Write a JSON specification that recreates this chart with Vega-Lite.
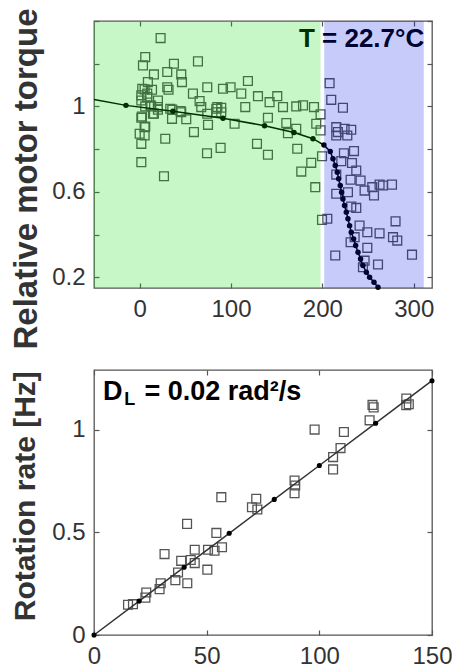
{
  "$schema": "https://vega.github.io/schema/vega-lite/v6.json",
  "background": "white",
  "padding": {"left": 9, "top": 7, "right": 0, "bottom": 0},
  "bounds": "flush",
  "spacing": 82,
  "config": {
    "view": {"stroke": "#555", "strokeWidth": 1.3},
    "font": "Liberation Sans",
    "axis": {
      "grid": false, "domain": false, "tickSize": -5, "tickColor": "#555", "tickWidth": 1.2,
      "labelFont": "Liberation Sans", "labelFontSize": 24, "labelColor": "#333",
      "labelFlush": false, "labelOverlap": false,
      "titleFont": "Liberation Sans", "titleFontWeight": "bold", "titleColor": "#333"
    }
  },
  "datasets": {
    "torque": [
      {"x": 22.9, "y": 1.32}, {"x": 6.1, "y": 1.231}, {"x": 3.6, "y": 1.192}, {"x": 37.5, "y": 1.2},
      {"x": 63.8, "y": 1.211}, {"x": 30.2, "y": 1.161}, {"x": 15.6, "y": 1.15}, {"x": 45.5, "y": 1.15},
      {"x": 46.3, "y": 1.114}, {"x": 9, "y": 1.114}, {"x": 118.5, "y": 1.119}, {"x": 74, "y": 1.09},
      {"x": 91.2, "y": 1.083}, {"x": 99.5, "y": 1.09}, {"x": 111.2, "y": 1.06}, {"x": 129.5, "y": 1.048},
      {"x": 150.6, "y": 1.048}, {"x": 142.2, "y": 1.02}, {"x": 58.3, "y": 1.06}, {"x": 65.6, "y": 1.025},
      {"x": 67.4, "y": 0.997}, {"x": 115.6, "y": 0.997}, {"x": 156.9, "y": 0.997}, {"x": 171.4, "y": 1.0},
      {"x": 178.8, "y": 1.005}, {"x": 190.8, "y": 0.997}, {"x": 198, "y": 0.963}, {"x": 89.3, "y": 0.994},
      {"x": 83.9, "y": 0.973}, {"x": 140.4, "y": 0.947}, {"x": 160.5, "y": 0.922}, {"x": 171.4, "y": 0.895},
      {"x": 162.3, "y": 0.875}, {"x": 193.3, "y": 0.919}, {"x": 198, "y": 0.888}, {"x": 103.9, "y": 0.919},
      {"x": 74.8, "y": 0.914}, {"x": 51, "y": 0.94}, {"x": 35.4, "y": 0.942}, {"x": 45.5, "y": 0.973},
      {"x": 59.4, "y": 0.88}, {"x": 28, "y": 0.849}, {"x": 1.8, "y": 0.947}, {"x": 5.4, "y": 0.903},
      {"x": 0, "y": 0.872}, {"x": 5.4, "y": 0.864}, {"x": 1.8, "y": 0.825}, {"x": 1.8, "y": 0.739},
      {"x": 26.6, "y": 0.673}, {"x": 73.7, "y": 0.781}, {"x": 88.6, "y": 0.806}, {"x": 128.4, "y": 0.825},
      {"x": 140.4, "y": 0.774}, {"x": 172.5, "y": 0.802}, {"x": 187.8, "y": 0.736}, {"x": 176.9, "y": 0.695},
      {"x": 199.6, "y": 0.767}, {"x": 192.2, "y": 0.622}, {"x": 199.6, "y": 0.469},
      {"x": 2.8, "y": 1.083}, {"x": 13.5, "y": 1.078}, {"x": 30.2, "y": 1.09}, {"x": 31.6, "y": 1.078},
      {"x": 1.8, "y": 1.052}, {"x": 8.3, "y": 1.044}, {"x": 20, "y": 1.028}, {"x": 1.8, "y": 1.028},
      {"x": 12.7, "y": 1.0}, {"x": 20, "y": 0.997}, {"x": 6.1, "y": 1.0}, {"x": 11.9, "y": 1.005},
      {"x": 2.5, "y": 0.953}, {"x": 15.6, "y": 0.966}, {"x": 20, "y": 0.985}, {"x": 35.7, "y": 0.985},
      {"x": 33.5, "y": 0.989}, {"x": 44.8, "y": 0.978}, {"x": 74, "y": 0.966}, {"x": 83.9, "y": 0.989},
      {"x": 85, "y": 0.997}, {"x": 89.3, "y": 0.973}, {"x": 6.1, "y": 0.906}, {"x": 14.5, "y": 0.966},
      {"x": 8.3, "y": 1.06}, {"x": 5.4, "y": 1.08},
      {"x": 207.9, "y": 1.109}, {"x": 209.7, "y": 1.031}, {"x": 222.5, "y": 0.994}, {"x": 215.2, "y": 0.903},
      {"x": 224.3, "y": 0.895}, {"x": 231.6, "y": 0.891}, {"x": 215.2, "y": 0.864}, {"x": 227.3, "y": 0.864},
      {"x": 217, "y": 0.88}, {"x": 223.6, "y": 0.781}, {"x": 234.6, "y": 0.791}, {"x": 220.7, "y": 0.744},
      {"x": 232.4, "y": 0.735}, {"x": 237.1, "y": 0.7}, {"x": 215.2, "y": 0.681}, {"x": 230.9, "y": 0.657},
      {"x": 241.8, "y": 0.653}, {"x": 246.2, "y": 0.606}, {"x": 254.6, "y": 0.622}, {"x": 262.6, "y": 0.634},
      {"x": 266.3, "y": 0.63}, {"x": 276.2, "y": 0.634}, {"x": 256.5, "y": 0.583}, {"x": 215.2, "y": 0.591},
      {"x": 228, "y": 0.598}, {"x": 231.6, "y": 0.531}, {"x": 237.1, "y": 0.525}, {"x": 205.4, "y": 0.474},
      {"x": 240.7, "y": 0.442}, {"x": 249.2, "y": 0.411}, {"x": 262.6, "y": 0.406}, {"x": 280.1, "y": 0.462},
      {"x": 277.3, "y": 0.388}, {"x": 282, "y": 0.372}, {"x": 230.9, "y": 0.364}, {"x": 235.3, "y": 0.388},
      {"x": 249.2, "y": 0.338}, {"x": 214.1, "y": 0.302}, {"x": 246.2, "y": 0.278}, {"x": 260.9, "y": 0.26},
      {"x": 298.1, "y": 0.306}, {"x": 244.4, "y": 0.247}
    ],
    "torqueFit": [
      {"x": -50, "y": 1.033}, {"x": -15, "y": 1.005}, {"x": 36.4, "y": 0.977}, {"x": 91.2, "y": 0.945},
      {"x": 136.7, "y": 0.91}, {"x": 168.9, "y": 0.878}, {"x": 189.7, "y": 0.849}, {"x": 201.7, "y": 0.819},
      {"x": 208.6, "y": 0.789}, {"x": 211.6, "y": 0.755}, {"x": 214.1, "y": 0.724}, {"x": 216.3, "y": 0.692},
      {"x": 217.8, "y": 0.661}, {"x": 219.6, "y": 0.63}, {"x": 221.0, "y": 0.598}, {"x": 222.5, "y": 0.567},
      {"x": 224.3, "y": 0.536}, {"x": 226.2, "y": 0.505}, {"x": 228, "y": 0.474}, {"x": 229.8, "y": 0.442},
      {"x": 231.6, "y": 0.411}, {"x": 234.2, "y": 0.38}, {"x": 236.4, "y": 0.349}, {"x": 239, "y": 0.317},
      {"x": 241.8, "y": 0.286}, {"x": 244.4, "y": 0.255}, {"x": 248.1, "y": 0.224}, {"x": 251.7, "y": 0.2},
      {"x": 256.5, "y": 0.177}, {"x": 260.9, "y": 0.153}
    ],
    "torqueDots": [
      {"x": -15, "y": 1.005}, {"x": 36.4, "y": 0.977}, {"x": 91.2, "y": 0.945},
      {"x": 136.7, "y": 0.91}, {"x": 168.9, "y": 0.878}, {"x": 189.7, "y": 0.849}, {"x": 201.7, "y": 0.819},
      {"x": 208.6, "y": 0.789}, {"x": 211.6, "y": 0.755}, {"x": 214.1, "y": 0.724}, {"x": 216.3, "y": 0.692},
      {"x": 217.8, "y": 0.661}, {"x": 219.6, "y": 0.63}, {"x": 221.0, "y": 0.598}, {"x": 222.5, "y": 0.567},
      {"x": 224.3, "y": 0.536}, {"x": 226.2, "y": 0.505}, {"x": 228, "y": 0.474}, {"x": 229.8, "y": 0.442},
      {"x": 231.6, "y": 0.411}, {"x": 234.2, "y": 0.38}, {"x": 236.4, "y": 0.349}, {"x": 239, "y": 0.317},
      {"x": 241.8, "y": 0.286}, {"x": 244.4, "y": 0.255}, {"x": 248.1, "y": 0.224}, {"x": 251.7, "y": 0.2},
      {"x": 256.5, "y": 0.177}, {"x": 260.9, "y": 0.153}
    ],
    "regions": [
      {"regime": "low load", "start": -50, "end": 198},
      {"regime": "high load", "start": 202, "end": 311}
    ],
    "rotation": [
      {"x": 15.1, "y": 0.147}, {"x": 17.3, "y": 0.15}, {"x": 23.2, "y": 0.207}, {"x": 22.8, "y": 0.182},
      {"x": 29.6, "y": 0.252}, {"x": 29.1, "y": 0.223}, {"x": 31.3, "y": 0.394}, {"x": 36.1, "y": 0.267},
      {"x": 37.3, "y": 0.304}, {"x": 38.7, "y": 0.361}, {"x": 42.9, "y": 0.365}, {"x": 41.3, "y": 0.541},
      {"x": 41.4, "y": 0.252}, {"x": 44.7, "y": 0.35}, {"x": 44.7, "y": 0.415}, {"x": 50.3, "y": 0.318},
      {"x": 50.6, "y": 0.415}, {"x": 54.3, "y": 0.497}, {"x": 53.5, "y": 0.41}, {"x": 56.8, "y": 0.427},
      {"x": 56.5, "y": 0.671}, {"x": 70.1, "y": 0.622}, {"x": 72, "y": 0.663}, {"x": 72.5, "y": 0.611},
      {"x": 89, "y": 0.752}, {"x": 89.3, "y": 0.728}, {"x": 89, "y": 0.69}, {"x": 97.9, "y": 1.0},
      {"x": 106.1, "y": 0.866}, {"x": 106.1, "y": 0.806}, {"x": 109.4, "y": 0.91}, {"x": 110.9, "y": 0.988},
      {"x": 122.3, "y": 1.045}, {"x": 123.6, "y": 1.12}, {"x": 124.1, "y": 1.108}, {"x": 138.6, "y": 1.151},
      {"x": 138.6, "y": 1.119}, {"x": 139.7, "y": 1.123}
    ],
    "rotationFit": [
      {"x": 0, "y": 0}, {"x": 20, "y": 0.165}, {"x": 40, "y": 0.33}, {"x": 60, "y": 0.495},
      {"x": 80, "y": 0.66}, {"x": 100, "y": 0.825}, {"x": 125, "y": 1.031}, {"x": 150, "y": 1.238}
    ],
    "annotation": [
      {"part": "D", "x": 4, "y": 1.143},
      {"part": "L", "x": 13.4, "y": 1.122},
      {"part": "= 0.02 rad²/s", "x": 22.4, "y": 1.143}
    ]
  },
  "vconcat": [
    {
      "width": 338, "height": 267,
      "resolve": {"axis": {"x": "independent", "y": "independent"}},
      "layer": [
        {
          "data": {"name": "torque"},
          "mark": {"type": "point", "shape": "square", "filled": false, "size": 78, "stroke": "#555", "strokeWidth": 1.3, "opacity": 1},
          "encoding": {
            "x": {"field": "x", "type": "quantitative",
              "scale": {"domain": [-50, 320], "nice": false, "zero": false},
              "axis": {"orient": "bottom", "values": [0, 100, 200, 300], "title": null, "labelPadding": 14}},
            "y": {"field": "y", "type": "quantitative",
              "scale": {"domain": [0.15, 1.4], "nice": false, "zero": false},
              "axis": {"orient": "left", "values": [0.2, 0.4, 0.6, 0.8, 1, 1.2, 1.4], "format": ".1~f",
                "labelExpr": "datum.value == 0.2 || datum.value == 0.6 || datum.value == 1 ? datum.label : ''",
                "labelPadding": 14,
                "title": "Relative motor torque", "titleFontSize": 33, "titleAngle": -90,
                "titleBaseline": "alphabetic", "titleAlign": "center", "titleX": -58, "titleY": 157.5}}
          }
        },
        {
          "data": {"name": "torqueFit"},
          "mark": {"type": "line", "color": "#000", "strokeWidth": 1.5},
          "encoding": {
            "x": {"field": "x", "type": "quantitative",
              "axis": {"orient": "top", "values": [0, 100, 200, 300], "labels": false, "title": null}},
            "y": {"field": "y", "type": "quantitative",
              "axis": {"orient": "right", "values": [0.2, 0.4, 0.6, 0.8, 1, 1.2, 1.4], "labels": false, "title": null}}
          }
        },
        {
          "data": {"name": "torqueDots"},
          "mark": {"type": "circle", "size": 30, "color": "#000", "opacity": 1},
          "encoding": {
            "x": {"field": "x", "type": "quantitative", "axis": null},
            "y": {"field": "y", "type": "quantitative", "axis": null}
          }
        },
        {
          "data": {"values": [{"x": 311.5, "y": 1.278, "label": "T = 22.7°C"}]},
          "mark": {"type": "text", "align": "right", "baseline": "alphabetic", "fontSize": 26, "fontWeight": "bold", "color": "#000", "font": "Liberation Sans"},
          "encoding": {
            "x": {"field": "x", "type": "quantitative", "axis": null},
            "y": {"field": "y", "type": "quantitative", "axis": null},
            "text": {"field": "label"}
          }
        },
        {
          "data": {"name": "regions"},
          "mark": {"type": "rect", "opacity": 0.22, "strokeWidth": 0},
          "encoding": {
            "x": {"field": "start", "type": "quantitative", "axis": null},
            "x2": {"field": "end"},
            "color": {"field": "regime", "type": "nominal",
              "scale": {"domain": ["low load", "high load"], "range": ["#00dc00", "#0014e6"]}, "legend": null}
          }
        }
      ]
    },
    {
      "width": 338, "height": 265,
      "resolve": {"axis": {"x": "independent", "y": "independent"}},
      "layer": [
        {
          "data": {"name": "rotation"},
          "mark": {"type": "point", "shape": "square", "filled": false, "size": 78, "stroke": "#555", "strokeWidth": 1.3, "opacity": 1},
          "encoding": {
            "x": {"field": "x", "type": "quantitative",
              "scale": {"domain": [0, 150], "nice": false, "zero": false},
              "axis": {"orient": "bottom", "values": [0, 50, 100, 150], "title": null, "labelPadding": 14}},
            "y": {"field": "y", "type": "quantitative",
              "scale": {"domain": [0, 1.29], "nice": false, "zero": false},
              "axis": {"orient": "left", "values": [0, 0.5, 1], "format": ".1~f", "labelPadding": 14,
                "title": "Rotation rate [Hz]", "titleFontSize": 30, "titleAngle": -90,
                "titleBaseline": "alphabetic", "titleAlign": "center", "titleX": -59.4, "titleY": 125.7}}
          }
        },
        {
          "data": {"name": "rotationFit"},
          "mark": {"type": "line", "color": "#333", "strokeWidth": 1.5},
          "encoding": {
            "x": {"field": "x", "type": "quantitative",
              "axis": {"orient": "top", "values": [0, 50, 100, 150], "labels": false, "title": null}},
            "y": {"field": "y", "type": "quantitative",
              "axis": {"orient": "right", "values": [0, 0.5, 1], "labels": false, "title": null}}
          }
        },
        {
          "data": {"name": "rotationFit"},
          "mark": {"type": "circle", "size": 26, "color": "#000", "opacity": 1},
          "encoding": {
            "x": {"field": "x", "type": "quantitative", "axis": null},
            "y": {"field": "y", "type": "quantitative", "axis": null}
          }
        },
        {
          "data": {"name": "annotation"},
          "transform": [{"filter": "datum.part != 'L'"}],
          "mark": {"type": "text", "align": "left", "baseline": "alphabetic", "fontSize": 27, "fontWeight": "bold", "color": "#000", "font": "Liberation Sans"},
          "encoding": {
            "x": {"field": "x", "type": "quantitative", "axis": null},
            "y": {"field": "y", "type": "quantitative", "axis": null},
            "text": {"field": "part"}
          }
        },
        {
          "data": {"name": "annotation"},
          "transform": [{"filter": "datum.part == 'L'"}],
          "mark": {"type": "text", "align": "left", "baseline": "alphabetic", "fontSize": 18, "fontWeight": "bold", "color": "#000", "font": "Liberation Sans"},
          "encoding": {
            "x": {"field": "x", "type": "quantitative", "axis": null},
            "y": {"field": "y", "type": "quantitative", "axis": null},
            "text": {"field": "part"}
          }
        }
      ]
    }
  ]
}
